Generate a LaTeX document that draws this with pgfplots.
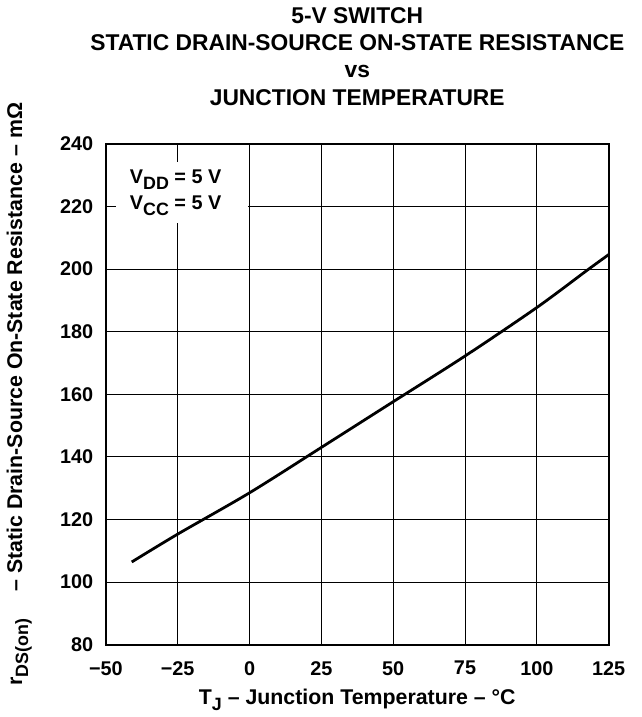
\documentclass[border=0pt]{standalone}
\usepackage{pgfplots}
\pgfplotsset{compat=1.18}
\usepackage{fontspec}
\setmainfont{Liberation Sans}
\newcommand{\sub}[1]{\raisebox{-6pt}{\fontsize{18}{18}\selectfont #1}}
\begin{document}
\fontsize{20}{24}\selectfont\bfseries
\begin{tikzpicture}[x=1pt,y=1pt]
\begin{axis}[
  scale only axis,
  width=507pt, height=505pt,
  xmin=-50, xmax=125, ymin=80, ymax=240,
  xtick={-50,-25,0,25,50,75,100,125},
  ytick={80,100,...,240},
  xticklabels={−50,−25,0,25,50,75,100,125},
  yticklabels={80,100,120,140,160,180,200,220,240},
  grid=major,
  major grid style={black, line width=0.9pt},
  axis line style={black, line width=2.2pt},
  tick style={draw=none},
  ticklabel style={font=\fontsize{20}{24}\selectfont\bfseries},
  xticklabel style={yshift=-10pt},
  yticklabel style={xshift=-6pt},
  title={5-V SWITCH\\STATIC DRAIN-SOURCE ON-STATE RESISTANCE\\vs\\JUNCTION TEMPERATURE},
  title style={align=center, font=\fontsize{23}{27.5}\selectfont\bfseries, yshift=26pt},
  xlabel={T\sub{J} – Junction Temperature – °C},
  ylabel={r\sub{DS(on)} \quad – Static Drain-Source On-State Resistance – mΩ},
  label style={font=\fontsize{21.5}{24}\selectfont\bfseries},
  xlabel style={yshift=0pt},
  ylabel style={yshift=15pt},
  clip=false,
]
\addplot[black, line width=2.8pt, smooth] coordinates {
(-41,106.4) (-25,115.3) (0,128.5) (25,143) (50,157.6) (75,172.2) (100,187.7) (117.5,199.6) (125,204.6)
};
\fill[white] (axis cs:-46.5,234.3) rectangle (axis cs:-0.4,214.7);
\node[inner sep=0pt, anchor=base west, font=\fontsize{20}{24}\selectfont\bfseries] at (axis cs:-41.7,227.3) {V\sub{DD} = 5 V};
\node[inner sep=0pt, anchor=base west, font=\fontsize{20}{24}\selectfont\bfseries] at (axis cs:-41.7,219.1) {V\sub{CC} = 5 V};
\end{axis}
\path ([xshift=-102pt,yshift=-67pt]current axis.south west) rectangle ([xshift=33pt,yshift=145pt]current axis.north east);
\end{tikzpicture}
\end{document}
